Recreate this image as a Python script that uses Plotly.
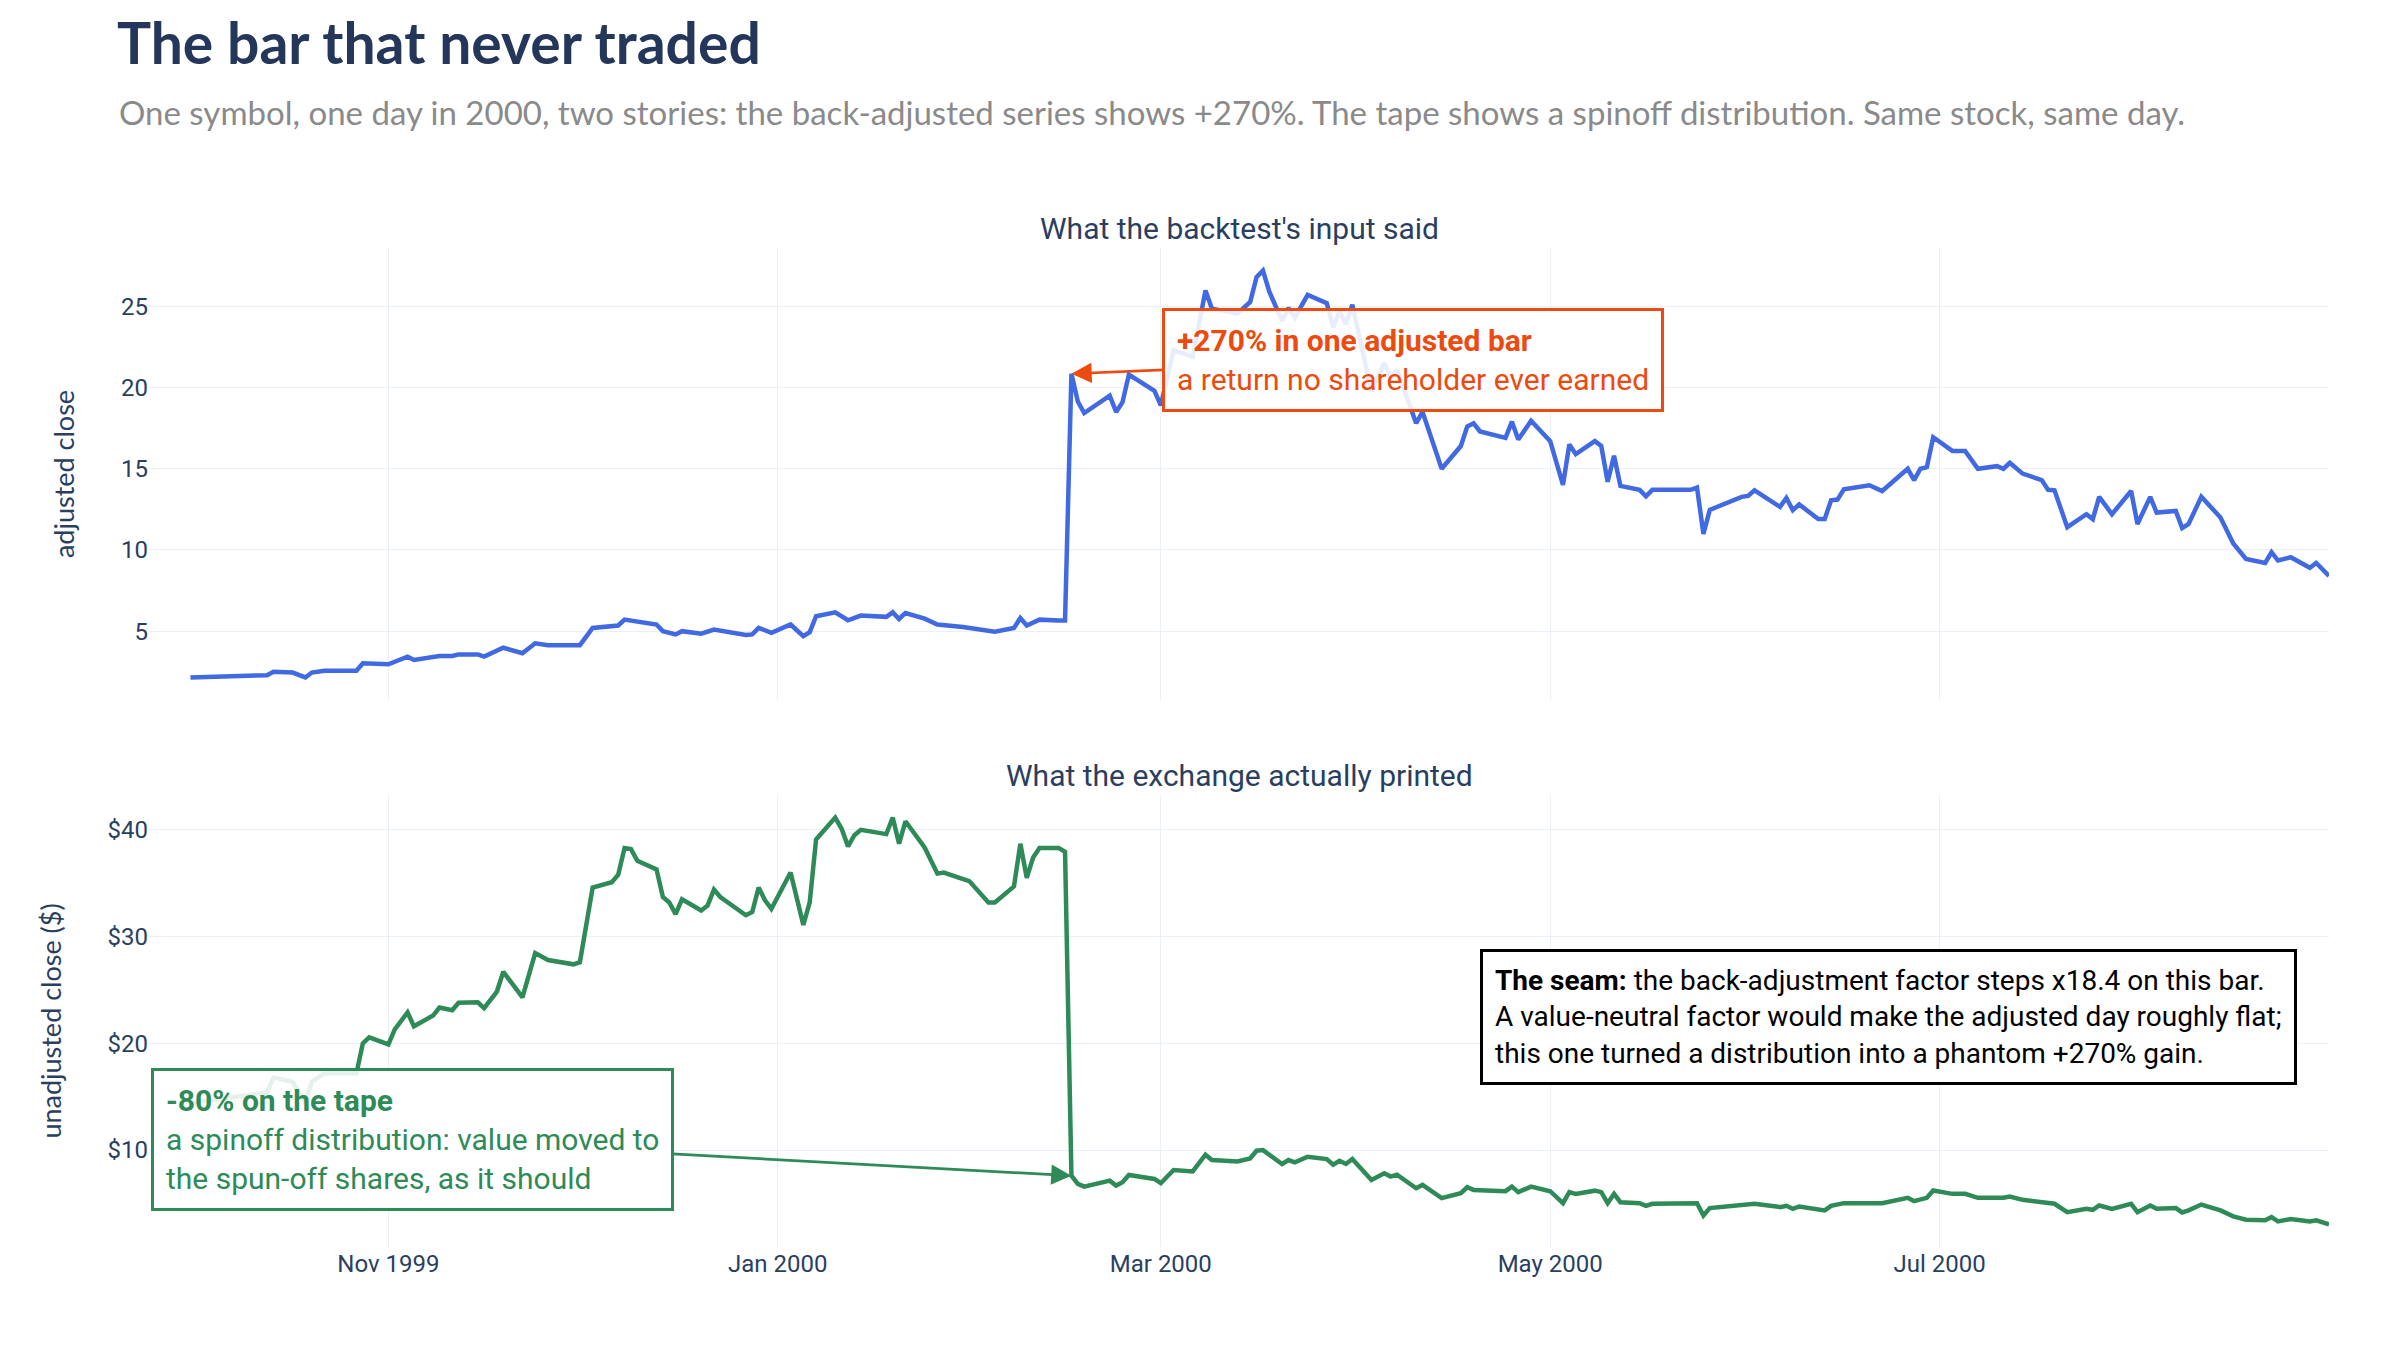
import plotly.graph_objects as go
from plotly.subplots import make_subplots

# back-adjusted close, as the backtest saw it
adj_dates = [
    "1999-10-01", "1999-10-13", "1999-10-14", "1999-10-17", "1999-10-19", "1999-10-20",
    "1999-10-22", "1999-10-27", "1999-10-28", "1999-11-01", "1999-11-04", "1999-11-05",
    "1999-11-09", "1999-11-11", "1999-11-12", "1999-11-15", "1999-11-16", "1999-11-19",
    "1999-11-22", "1999-11-24", "1999-11-26", "1999-12-01", "1999-12-03", "1999-12-07",
    "1999-12-08", "1999-12-10", "1999-12-13", "1999-12-14", "1999-12-16", "1999-12-17",
    "1999-12-20", "1999-12-22", "1999-12-27", "1999-12-28", "1999-12-29", "1999-12-31",
    "2000-01-03", "2000-01-05", "2000-01-06", "2000-01-07", "2000-01-10", "2000-01-12",
    "2000-01-14", "2000-01-18", "2000-01-19", "2000-01-20", "2000-01-21", "2000-01-24",
    "2000-01-26", "2000-01-30", "2000-02-04", "2000-02-07", "2000-02-08", "2000-02-09",
    "2000-02-11", "2000-02-14", "2000-02-15",
    "2000-02-16", "2000-02-17", "2000-02-18", "2000-02-22", "2000-02-23", "2000-02-24",
    "2000-02-25", "2000-02-29", "2000-03-01", "2000-03-03", "2000-03-06", "2000-03-08",
    "2000-03-09", "2000-03-13", "2000-03-15", "2000-03-16", "2000-03-17", "2000-03-18",
    "2000-03-20", "2000-03-21", "2000-03-22", "2000-03-24", "2000-03-27", "2000-03-28",
    "2000-03-29", "2000-03-30", "2000-03-31", "2000-04-03", "2000-04-05", "2000-04-06",
    "2000-04-07", "2000-04-10", "2000-04-11", "2000-04-14", "2000-04-17", "2000-04-18",
    "2000-04-19", "2000-04-20", "2000-04-24", "2000-04-25", "2000-04-26", "2000-04-28",
    "2000-05-01", "2000-05-03", "2000-05-04", "2000-05-05", "2000-05-08", "2000-05-09",
    "2000-05-10", "2000-05-11", "2000-05-12", "2000-05-15", "2000-05-16", "2000-05-17",
    "2000-05-23", "2000-05-24", "2000-05-25", "2000-05-26", "2000-05-31", "2000-06-01",
    "2000-06-02", "2000-06-06", "2000-06-07", "2000-06-08", "2000-06-09", "2000-06-12",
    "2000-06-13", "2000-06-14", "2000-06-15", "2000-06-16", "2000-06-20", "2000-06-21",
    "2000-06-22", "2000-06-26", "2000-06-27", "2000-06-28", "2000-06-29", "2000-06-30",
    "2000-07-03", "2000-07-05", "2000-07-07", "2000-07-10", "2000-07-11", "2000-07-12",
    "2000-07-14", "2000-07-17", "2000-07-18", "2000-07-19", "2000-07-21", "2000-07-24",
    "2000-07-25", "2000-07-26", "2000-07-28", "2000-07-31", "2000-08-01", "2000-08-03",
    "2000-08-04", "2000-08-07", "2000-08-08", "2000-08-09", "2000-08-11", "2000-08-14",
    "2000-08-16", "2000-08-18", "2000-08-21", "2000-08-22", "2000-08-23", "2000-08-25",
    "2000-08-28", "2000-08-29", "2000-08-31",
]
adj_close = [
    2.15, 2.29, 2.50, 2.45, 2.15, 2.45,
    2.56, 2.56, 3.02, 2.96, 3.43, 3.23,
    3.47, 3.47, 3.57, 3.57, 3.43, 3.98,
    3.64, 4.25, 4.14, 4.14, 5.20, 5.35,
    5.71, 5.57, 5.41, 5.00, 4.80, 5.00,
    4.84, 5.10, 4.76, 4.80, 5.20, 4.90,
    5.41, 4.69, 4.94, 5.92, 6.16, 5.67,
    5.96, 5.88, 6.16, 5.75, 6.12, 5.77,
    5.41, 5.26, 4.96, 5.20, 5.81, 5.35,
    5.71, 5.65, 5.65,
    20.85, 19.14, 18.43, 19.50, 18.50, 19.10,
    20.80, 19.80, 18.90, 22.30, 21.90, 25.98,
    24.86, 24.55, 25.27, 26.80, 27.20, 25.90,
    24.10, 24.90, 24.30, 25.70, 25.20, 23.70,
    24.70, 23.90, 25.10, 19.75, 21.50, 20.60,
    21.10, 17.80, 18.50, 15.00, 16.40, 17.60,
    17.80, 17.30, 16.90, 17.90, 16.80, 17.95,
    16.70, 14.00, 16.50, 15.90, 16.70, 16.40,
    14.20, 15.80, 13.94, 13.70, 13.30, 13.70,
    13.70, 13.84, 10.98, 12.47, 13.27, 13.33,
    13.67, 12.65, 13.20, 12.45, 12.80, 11.90,
    11.90, 13.06, 13.10, 13.73, 13.98, 13.84,
    13.63, 15.00, 14.30, 15.00, 15.10, 16.94,
    16.10, 16.10, 15.00, 15.16, 15.00, 15.37,
    14.70, 14.30, 13.70, 13.67, 11.40, 12.20,
    11.90, 13.27, 12.20, 13.63, 11.60, 13.27,
    12.30, 12.40, 11.35, 11.60, 13.27, 12.00,
    10.40, 9.45, 9.20, 9.86, 9.35, 9.55,
    8.90, 9.20, 8.40,
]

# unadjusted close, as the exchange printed it
raw_dates = [
    "1999-10-01", "1999-10-13", "1999-10-14", "1999-10-17", "1999-10-19", "1999-10-20",
    "1999-10-22", "1999-10-27", "1999-10-28", "1999-10-29", "1999-11-01", "1999-11-02",
    "1999-11-04", "1999-11-05", "1999-11-08", "1999-11-09", "1999-11-11", "1999-11-12",
    "1999-11-15", "1999-11-16", "1999-11-18", "1999-11-19", "1999-11-22", "1999-11-24",
    "1999-11-26", "1999-11-30", "1999-12-01", "1999-12-03", "1999-12-06", "1999-12-07",
    "1999-12-08", "1999-12-09", "1999-12-10", "1999-12-13", "1999-12-14", "1999-12-15",
    "1999-12-16", "1999-12-17", "1999-12-20", "1999-12-21", "1999-12-22", "1999-12-23",
    "1999-12-27", "1999-12-28", "1999-12-29", "1999-12-30", "1999-12-31", "2000-01-03",
    "2000-01-05", "2000-01-06", "2000-01-07", "2000-01-10", "2000-01-11", "2000-01-12",
    "2000-01-13", "2000-01-14", "2000-01-18", "2000-01-19", "2000-01-20", "2000-01-21",
    "2000-01-24", "2000-01-26", "2000-01-27", "2000-01-29", "2000-01-31", "2000-02-03",
    "2000-02-04", "2000-02-07", "2000-02-08", "2000-02-09", "2000-02-10", "2000-02-11",
    "2000-02-14", "2000-02-15",
    "2000-02-16", "2000-02-17", "2000-02-18", "2000-02-22", "2000-02-23", "2000-02-24",
    "2000-02-25", "2000-02-29", "2000-03-01", "2000-03-03", "2000-03-06", "2000-03-08",
    "2000-03-09", "2000-03-13", "2000-03-15", "2000-03-16", "2000-03-17", "2000-03-20",
    "2000-03-21", "2000-03-22", "2000-03-24", "2000-03-27", "2000-03-28", "2000-03-29",
    "2000-03-30", "2000-03-31", "2000-04-03", "2000-04-05", "2000-04-06", "2000-04-07",
    "2000-04-10", "2000-04-11", "2000-04-14", "2000-04-17", "2000-04-18", "2000-04-19",
    "2000-04-24", "2000-04-25", "2000-04-26", "2000-04-28", "2000-05-01", "2000-05-03",
    "2000-05-04", "2000-05-05", "2000-05-08", "2000-05-09", "2000-05-10", "2000-05-11",
    "2000-05-12", "2000-05-15", "2000-05-16", "2000-05-17", "2000-05-24", "2000-05-25",
    "2000-05-26", "2000-06-02", "2000-06-06", "2000-06-07", "2000-06-08", "2000-06-09",
    "2000-06-13", "2000-06-14", "2000-06-16", "2000-06-22", "2000-06-26", "2000-06-27",
    "2000-06-29", "2000-06-30", "2000-07-03", "2000-07-05", "2000-07-07", "2000-07-11",
    "2000-07-12", "2000-07-14", "2000-07-19", "2000-07-21", "2000-07-24", "2000-07-25",
    "2000-07-26", "2000-07-28", "2000-07-31", "2000-08-01", "2000-08-03", "2000-08-04",
    "2000-08-07", "2000-08-08", "2000-08-09", "2000-08-11", "2000-08-14", "2000-08-16",
    "2000-08-18", "2000-08-21", "2000-08-22", "2000-08-23", "2000-08-25", "2000-08-28",
    "2000-08-29", "2000-08-31",
]
raw_close = [
    14.4, 15.4, 16.8, 16.4, 14.4, 16.4,
    17.2, 17.2, 20.0, 20.56, 19.9, 21.3,
    22.9, 21.6, 22.6, 23.35, 23.1, 23.8,
    23.85, 23.3, 24.85, 26.7, 24.3, 28.45,
    27.8, 27.4, 27.6, 34.6, 35.1, 35.8,
    38.3, 38.2, 37.1, 36.3, 33.7, 33.2,
    32.1, 33.5, 32.45, 32.9, 34.4, 33.7,
    32.0, 32.3, 34.6, 33.4, 32.6, 36.0,
    31.1, 33.2, 39.1, 41.15, 40.1, 38.45,
    39.5, 40.0, 39.6, 41.15, 38.7, 40.8,
    38.35, 35.9, 36.0, 35.6, 35.2, 33.2,
    33.2, 34.7, 38.7, 35.5, 37.4, 38.3,
    38.3, 37.95,
    7.60, 6.83, 6.58, 7.14, 6.68, 6.99,
    7.67, 7.30, 6.90, 8.14, 8.00, 9.57,
    9.07, 8.94, 9.22, 9.94, 10.00, 8.70,
    9.07, 8.85, 9.38, 9.16, 8.63, 9.00,
    8.70, 9.16, 7.20, 7.83, 7.52, 7.70,
    6.43, 6.74, 5.50, 5.96, 6.52, 6.27,
    6.15, 6.58, 6.06, 6.58, 6.15, 5.03,
    6.06, 5.90, 6.20, 6.06, 5.03, 5.90,
    5.12, 5.03, 4.78, 4.97, 5.03, 3.88,
    4.57, 4.97, 4.66, 4.78, 4.50, 4.72,
    4.35, 4.78, 5.03, 5.03, 5.53, 5.22,
    5.53, 6.21, 5.90, 5.90, 5.53, 5.53,
    5.65, 5.34, 4.97, 4.19, 4.50, 4.41,
    4.81, 4.50, 4.97, 4.19, 4.81, 4.50,
    4.57, 4.16, 4.35, 4.90, 4.35, 3.79,
    3.48, 3.42, 3.73, 3.32, 3.54, 3.32,
    3.42, 3.04,
]

# the bar where the adjustment factor steps
seam_date = "2000-02-16"
seam_adj = 20.85
seam_raw = 7.60

panel_titles = ["What the backtest's input said", "What the exchange actually printed"]

NAVY = "#2a3f5f"
BLUE = "royalblue"
GREEN = "seagreen"
ORANGE = "#ec4a0e"

fig = make_subplots(rows=2, cols=1, shared_xaxes=True, vertical_spacing=0.095,
                    subplot_titles=panel_titles)

fig.add_trace(go.Scatter(x=adj_dates, y=adj_close, mode="lines",
                         line=dict(color=BLUE, width=4.5), name="adjusted"), row=1, col=1)
fig.add_trace(go.Scatter(x=raw_dates, y=raw_close, mode="lines",
                         line=dict(color=GREEN, width=4.5), name="unadjusted"), row=2, col=1)

fig.update_layout(
    template="plotly_white",
    width=2400, height=1350,
    margin=dict(l=141, r=79, t=240, b=111),
    showlegend=False,
    font=dict(family="Roboto", size=24, color=NAVY),
    title=dict(text="<b>The bar that never traded</b>", x=0.0454, xanchor="left",
               xref="container", y=0.988, yanchor="top",
               font=dict(family="Lato", size=57, color="#24365a")),
)

# subplot titles
for a in fig.layout.annotations:
    a.font = dict(family="Roboto", size=30, color=NAVY)

fig.update_xaxes(range=["1999-09-24 12:00", "2000-08-31"], dtick="M2", tick0="1999-11-01",
                 tickformat="%b %Y", showgrid=True, ticks="", showline=False)
fig.update_yaxes(showgrid=True, zeroline=False, title_standoff=38,
                 title_font=dict(family="Lato", size=27, color=NAVY))
fig.update_yaxes(title_text="adjusted close", dtick=5, row=1, col=1)
fig.update_yaxes(title_text="unadjusted close ($)", tickprefix="$", dtick=10, row=2, col=1)

fig.add_annotation(
    text="One symbol, one day in 2000, two stories: the back-adjusted series shows +270%. "
         "The tape shows a spinoff distribution. Same stock, same day.",
    xref="paper", yref="paper", x=-0.0147, y=1.136, xanchor="left", yanchor="middle",
    showarrow=False, font=dict(family="Lato", size=33, color="#8a8a8a"))

fig.add_annotation(
    x=seam_date, y=seam_adj, xref="x", yref="y", ax=342, ay=-14,
    text="<b>+270% in one adjusted bar</b><br>a return no shareholder ever earned",
    align="left", showarrow=True, arrowhead=2, arrowsize=1.5, arrowwidth=2.7,
    arrowcolor=ORANGE, font=dict(family="Roboto", size=30, color=ORANGE),
    bgcolor="rgba(255,255,255,0.88)", bordercolor=ORANGE, borderwidth=3, borderpad=12)

fig.add_annotation(
    x=seam_date, y=seam_raw, xref="x2", yref="y2", ax=-659, ay=-36,
    text="<b>-80% on the tape</b><br>a spinoff distribution: value moved to"
         "<br>the spun-off shares, as it should",
    align="left", showarrow=True, arrowhead=2, arrowsize=1.5, arrowwidth=2.7,
    arrowcolor=GREEN, font=dict(family="Roboto", size=30, color=GREEN),
    bgcolor="rgba(255,255,255,0.88)", bordercolor=GREEN, borderwidth=3, borderpad=12)

fig.add_annotation(
    xref="paper", yref="paper", x=0.6106, y=0.230, xanchor="left", yanchor="middle",
    text="<b>The seam:</b> the back-adjustment factor steps x18.4 on this bar.<br>"
         "A value-neutral factor would make the adjusted day roughly flat;<br>"
         "this one turned a distribution into a phantom +270% gain.",
    align="left", showarrow=False, font=dict(family="Roboto", size=28, color="black"),
    bgcolor="white", bordercolor="black", borderwidth=3, borderpad=12)

fig.write_html("out.html")
